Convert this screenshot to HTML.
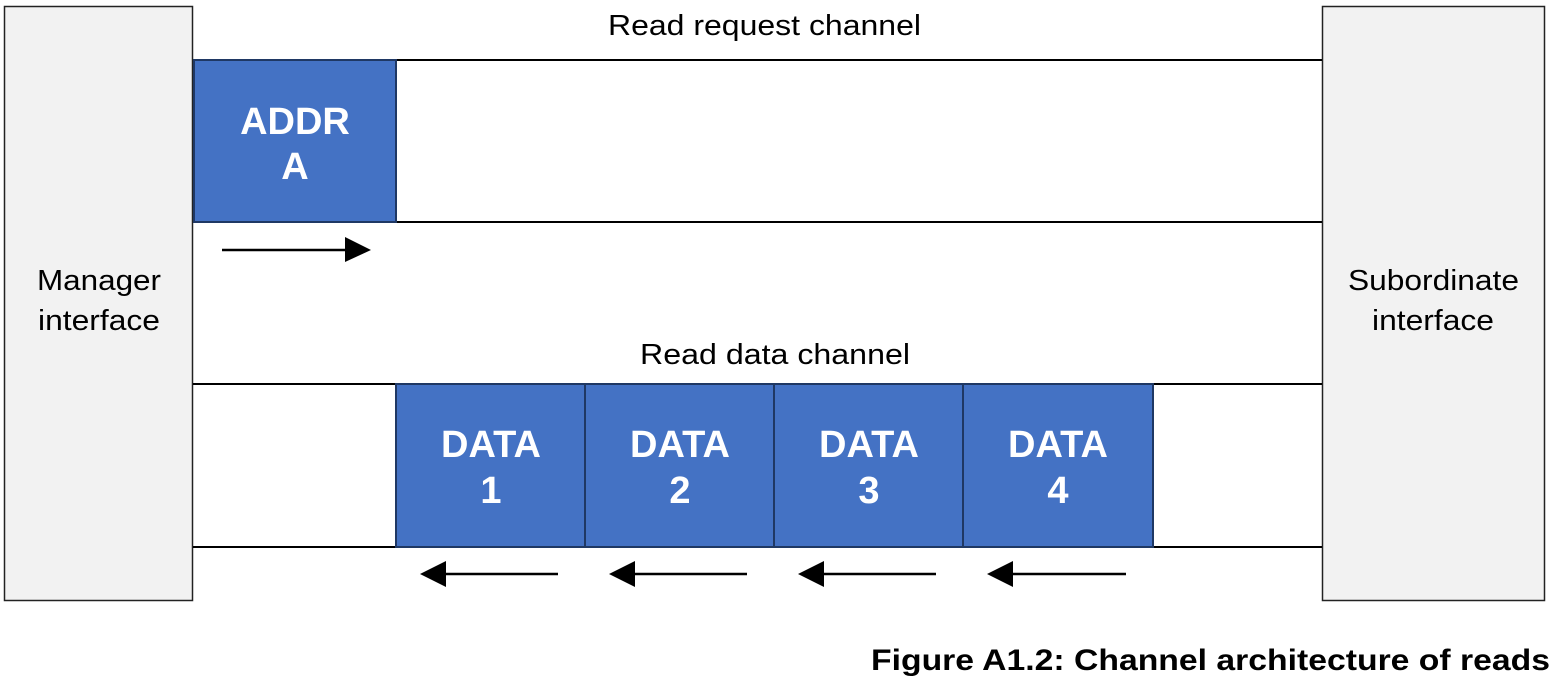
<!DOCTYPE html>
<html><head><meta charset="utf-8"><style>
html,body{margin:0;padding:0;background:#fff;}
svg{display:block;font-family:"Liberation Sans",Arial,sans-serif;}
</style></head><body>
<svg width="1552" height="677" viewBox="0 0 1552 677">
<rect x="4.5" y="6.5" width="188" height="594" fill="#f2f2f2" stroke="#222" stroke-width="1.5"/>
<text x="37" y="290" font-size="29" fill="#000" textLength="124" lengthAdjust="spacingAndGlyphs">Manager</text>
<text x="38" y="330" font-size="29" fill="#000" textLength="122" lengthAdjust="spacingAndGlyphs">interface</text>
<rect x="1322.5" y="6.5" width="222" height="594" fill="#f2f2f2" stroke="#222" stroke-width="1.5"/>
<text x="1348" y="290" font-size="29" fill="#000" textLength="171" lengthAdjust="spacingAndGlyphs">Subordinate</text>
<text x="1372" y="330" font-size="29" fill="#000" textLength="122" lengthAdjust="spacingAndGlyphs">interface</text>

<text x="608" y="35" font-size="29" fill="#000" textLength="313" lengthAdjust="spacingAndGlyphs">Read request channel</text>
<line x1="193" y1="60" x2="1322" y2="60" stroke="#000" stroke-width="2"/>
<line x1="193" y1="222" x2="1322" y2="222" stroke="#000" stroke-width="2"/>
<rect x="194" y="60" width="202" height="162" fill="#4472c4" stroke="#1f3864" stroke-width="2"/>
<text x="295" y="134" font-size="38" font-weight="bold" text-anchor="middle" fill="#fff">ADDR</text>
<text x="295" y="179" font-size="38" font-weight="bold" text-anchor="middle" fill="#fff">A</text>
<line x1="222" y1="250" x2="348" y2="250" stroke="#000" stroke-width="2.5"/>
<polygon points="345,237 371,250 345,262" fill="#000"/>

<text x="640" y="364" font-size="29" fill="#000" textLength="270" lengthAdjust="spacingAndGlyphs">Read data channel</text>
<line x1="193" y1="384" x2="1322" y2="384" stroke="#000" stroke-width="2"/>
<line x1="193" y1="547" x2="1322" y2="547" stroke="#000" stroke-width="2"/>
<g>
<rect x="396" y="384" width="189" height="163" fill="#4472c4" stroke="#1f3864" stroke-width="2"/>
<rect x="585" y="384" width="189" height="163" fill="#4472c4" stroke="#1f3864" stroke-width="2"/>
<rect x="774" y="384" width="189" height="163" fill="#4472c4" stroke="#1f3864" stroke-width="2"/>
<rect x="963" y="384" width="190" height="163" fill="#4472c4" stroke="#1f3864" stroke-width="2"/>
</g>
<g font-size="38" font-weight="bold" text-anchor="middle" fill="#fff">
<text x="491" y="457">DATA</text><text x="491" y="503">1</text>
<text x="680" y="457">DATA</text><text x="680" y="503">2</text>
<text x="869" y="457">DATA</text><text x="869" y="503">3</text>
<text x="1058" y="457">DATA</text><text x="1058" y="503">4</text>
</g>
<g fill="#000" stroke="#000">
<line x1="444" y1="574" x2="558" y2="574" stroke-width="2.5"/>
<polygon points="420,574 446,561 446,587" stroke="none"/>
<line x1="633" y1="574" x2="747" y2="574" stroke-width="2.5"/>
<polygon points="609,574 635,561 635,587" stroke="none"/>
<line x1="822" y1="574" x2="936" y2="574" stroke-width="2.5"/>
<polygon points="798,574 824,561 824,587" stroke="none"/>
<line x1="1011" y1="574" x2="1126" y2="574" stroke-width="2.5"/>
<polygon points="987,574 1013,561 1013,587" stroke="none"/>
</g>
<text x="871" y="670" font-size="30" font-weight="bold" fill="#000" textLength="679" lengthAdjust="spacingAndGlyphs">Figure A1.2: Channel architecture of reads</text>
</svg>
</body></html>
